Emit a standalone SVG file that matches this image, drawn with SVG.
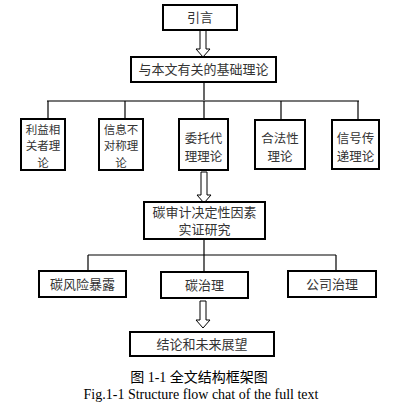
<svg xmlns="http://www.w3.org/2000/svg" width="405" height="417" viewBox="0 0 405 417">
<style>
.box{fill:#fff;stroke:#000;stroke-width:2}
.t{font-family:"Noto Sans CJK SC",sans-serif;font-size:13px;fill:#333;text-anchor:middle}
.s3{font-size:11.5px}
.s2{font-size:12.5px}
.ln{fill:none;stroke:#000;stroke-width:1.2}
.bar{fill:none;stroke:#777;stroke-width:2}
.ha{fill:#fff;stroke:#000;stroke-width:1}
.cap{font-family:"Liberation Serif","Noto Sans CJK SC",serif;font-size:14px;fill:#000;text-anchor:middle}
</style>
<rect width="405" height="417" fill="#fff"/>
<g id="connectors">
<polygon class="ha" points="200,30 206,30 206,49 210,49 203,57 196,49 200,49"/>
<line class="ln" x1="204" y1="82" x2="204" y2="101"/>
<line class="bar" x1="47" y1="101" x2="359" y2="101"/>
<line class="ln" x1="48" y1="101" x2="48" y2="119"/>
<line class="ln" x1="125" y1="101" x2="125" y2="119"/>
<line class="ln" x1="204" y1="101" x2="204" y2="119"/>
<line class="ln" x1="281" y1="101" x2="281" y2="120"/>
<line class="ln" x1="358" y1="101" x2="358" y2="120"/>
<polygon class="ha" points="201,172 207,172 207,195 211,195 204,203 197,195 201,195"/>
<line class="ln" x1="204" y1="239" x2="204" y2="272"/>
<line class="ln" x1="88" y1="255" x2="336" y2="255"/>
<line class="ln" x1="88" y1="255" x2="88" y2="271"/>
<line class="ln" x1="336" y1="255" x2="336" y2="271"/>
<polygon class="ha" points="200,301 206,301 206,320 210,320 203,328 196,320 200,320"/>
</g>
<g id="n-intro"><rect class="box" x="163" y="5" width="74" height="25"/><text class="t" x="200" y="22">引言</text></g>
<g id="n-basis"><rect class="box" x="131" y="57" width="145" height="25"/><text class="t" x="203.5" y="74">与本文有关的基础理论</text></g>
<g id="n-stake"><rect class="box" x="21" y="119" width="44" height="51"/><text class="t s3" x="43" y="133.5"><tspan x="43" y="133.5">利益相</tspan><tspan x="43" y="150.2">关者理</tspan><tspan x="43" y="166.9">论</tspan></text></g>
<g id="n-info"><rect class="box" x="99" y="119" width="44" height="51"/><text class="t s3" x="121" y="133.5"><tspan x="121" y="133.5">信息不</tspan><tspan x="121" y="150.2">对称理</tspan><tspan x="121" y="166.9">论</tspan></text></g>
<g id="n-agency"><rect class="box" x="179" y="119" width="49" height="51"/><text class="t s2" x="203.5" y="142.7"><tspan x="203.5" y="142.7">委托代</tspan><tspan x="203.5" y="160.9">理理论</tspan></text></g>
<g id="n-legit"><rect class="box" x="255" y="120" width="50" height="49"/><text class="t s2" x="280" y="142.5"><tspan x="280" y="142.5">合法性</tspan><tspan x="280" y="160.7">理论</tspan></text></g>
<g id="n-signal"><rect class="box" x="332" y="120" width="47" height="49"/><text class="t s2" x="355.5" y="142.5"><tspan x="355.5" y="142.5">信号传</tspan><tspan x="355.5" y="160.7">递理论</tspan></text></g>
<g id="n-empirical"><rect class="box" x="144" y="202" width="121" height="37"/><text class="t" x="204.5" y="216.5" font-size="12"><tspan x="204.5" y="216.5">碳审计决定性因素</tspan><tspan x="204.5" y="234">实证研究</tspan></text></g>
<g id="n-risk"><rect class="box" x="39" y="271" width="87" height="26"/><text class="t" x="82.5" y="289">碳风险暴露</text></g>
<g id="n-carbon"><rect class="box" x="161" y="272" width="87" height="26"/><text class="t" x="204.5" y="290">碳治理</text></g>
<g id="n-corp"><rect class="box" x="288" y="271" width="88" height="26"/><text class="t" x="332" y="289">公司治理</text></g>
<g id="n-concl"><rect class="box" x="130" y="332" width="144" height="24"/><text class="t" x="202" y="349">结论和未来展望</text></g>
<text class="cap" x="199" y="382" font-size="15">图 1-1 全文结构框架图</text>
<text class="cap" x="201" y="399" font-size="13.5">Fig.1-1 Structure flow chat of the full text</text>
</svg>
